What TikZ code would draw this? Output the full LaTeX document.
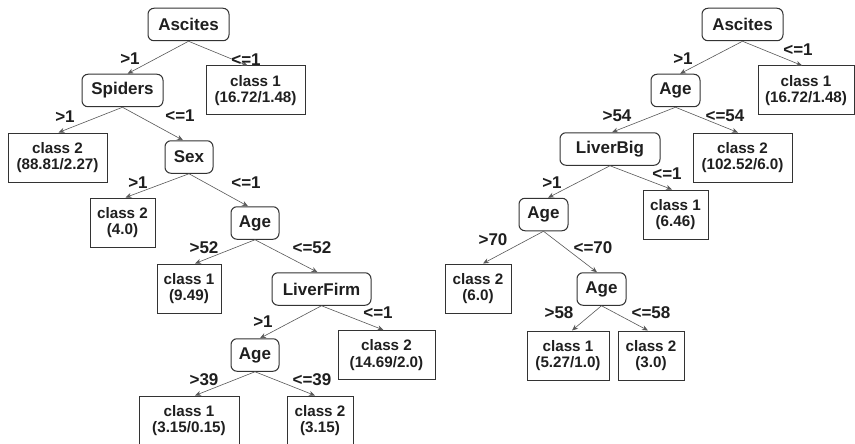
\documentclass[tikz,border=0pt]{standalone}
\usepackage{fontspec}
\setmainfont{Liberation Sans}
\usetikzlibrary{arrows.meta}
\begin{document}
\begin{tikzpicture}[x=1pt,y=-1pt,
 inode/.style={draw=black!80, line width=1pt, rounded corners=6pt, font=\fontsize{17}{18}\selectfont\bfseries, text=black!88, inner sep=0pt, minimum height=32.5pt},
 leaf/.style={draw=black!80, line width=1pt, font=\fontsize{15.2}{16.3}\selectfont\bfseries, align=center, text=black!88, inner sep=0pt, minimum height=49pt},
 elab/.style={font=\fontsize{17}{18}\selectfont\bfseries, text=black!88, inner sep=0pt},
 conn/.style={draw=black!65, line width=0.6pt, -{Stealth[length=6pt,width=5pt]}}]
\useasboundingbox (0,0) rectangle (855,444);
\fill[white] (0,0) rectangle (855,444);
% ---------- left tree ----------
\node[inode, minimum width=81pt] (a1) at (188.5,24.5) {Ascites};
\node[leaf, minimum width=99pt] (l1) at (255.5,90.5) {class 1\\(16.72/1.48)};
\node[inode, minimum width=81pt] (s) at (122.5,90.5) {Spiders};
\node[leaf, minimum width=99pt] (l2) at (57.5,157.5) {class 2\\(88.81/2.27)};
\node[inode, minimum width=48pt] (sex) at (189,157) {Sex};
\node[leaf, minimum width=65pt] (l3) at (122.5,222.5) {class 2\\(4.0)};
\node[inode, minimum width=48pt] (age1) at (255,223) {Age};
\node[leaf, minimum width=64pt] (l4) at (189,288.5) {class 1\\(9.49)};
\node[inode, minimum width=99pt] (lf) at (321.5,289) {LiverFirm};
\node[inode, minimum width=48pt] (age2) at (255,355) {Age};
\node[leaf, minimum width=97pt] (l5) at (386.5,355) {class 2\\(14.69/2.0)};
\node[leaf, minimum width=100pt] (l6) at (189,420.5) {class 1\\(3.15/0.15)};
\node[leaf, minimum width=66pt] (l7) at (320,420.5) {class 2\\(3.15)};
\draw[conn] (a1.south) -- ([xshift=5pt]s.north);
\draw[conn] (a1.south) -- ([xshift=-8pt]l1.north);
\draw[conn] (s.south) -- ([xshift=1pt]l2.north);
\draw[conn] (s.south) -- ([xshift=-6pt]sex.north);
\draw[conn] (sex.south) -- ([xshift=3pt]l3.north);
\draw[conn] (sex.south) -- ([xshift=-7pt]age1.north);
\draw[conn] (age1.south) -- ([xshift=6pt]l4.north);
\draw[conn] (age1.south) -- ([xshift=-4pt]lf.north);
\draw[conn] (lf.south) -- ([xshift=5pt]age2.north);
\draw[conn] (lf.south) -- ([xshift=-3pt]l5.north);
\draw[conn] (age2.south) -- ([xshift=6pt]l6.north);
\draw[conn] (age2.south) -- ([xshift=-5pt]l7.north);
\node[elab] (e1) at (130,59) {>1};
\node[elab] (e2) at (246,60) {<=1};
\node[elab] (e3) at (65,117) {>1};
\node[elab] (e4) at (180,116) {<=1};
\node[elab] (e5) at (138,183) {>1};
\node[elab] (e6) at (246,183) {<=1};
\node[elab] (e7) at (204,248) {>52};
\node[elab] (e8) at (312,248) {<=52};
\node[elab] (e9) at (263,322) {>1};
\node[elab] (e10) at (378,313) {<=1};
\node[elab] (e11) at (204,380) {>39};
\node[elab] (e12) at (312,380) {<=39};
% ---------- right tree ----------
\node[inode, minimum width=81pt] (b1) at (742.5,24.5) {Ascites};
\node[leaf, minimum width=96pt] (r1) at (806,90.5) {class 1\\(16.72/1.48)};
\node[inode, minimum width=49pt] (ba) at (675.5,90.5) {Age};
\node[inode, minimum width=100pt] (lb) at (610,149) {LiverBig};
\node[leaf, minimum width=99pt] (r2) at (742.5,157.5) {class 2\\(102.52/6.0)};
\node[leaf, minimum width=65pt] (r3) at (675.5,214.5) {class 1\\(6.46)};
\node[inode, minimum width=49pt] (ba2) at (543.5,214.5) {Age};
\node[leaf, minimum width=66pt] (r4) at (478,288.5) {class 2\\(6.0)};
\node[inode, minimum width=49pt] (ba3) at (601.5,289) {Age};
\node[leaf, minimum width=82pt] (r5) at (568,355.5) {class 1\\(5.27/1.0)};
\node[leaf, minimum width=66pt] (r6) at (651,355.5) {class 2\\(3.0)};
\draw[conn] (b1.south) -- ([xshift=4.5pt]ba.north);
\draw[conn] (b1.south) -- ([xshift=-4pt]r1.north);
\draw[conn] (ba.south) -- ([xshift=2pt]lb.north);
\draw[conn] (ba.south) -- ([xshift=-4.5pt]r2.north);
\draw[conn] (lb.south) -- ([xshift=4.5pt]ba2.north);
\draw[conn] (lb.south) -- ([xshift=-3.5pt]r3.north);
\draw[conn] (ba2.south) -- ([xshift=5pt]r4.north);
\draw[conn] (ba2.south) -- ([xshift=-4.5pt]ba3.north);
\draw[conn] (ba3.south) -- ([xshift=4pt]r5.north);
\draw[conn] (ba3.south) -- ([xshift=-3pt]r6.north);
\node[elab] (f1) at (683,59) {>1};
\node[elab] (f2) at (798,50) {<=1};
\node[elab] (f3) at (617,116) {>54};
\node[elab] (f4) at (725,116) {<=54};
\node[elab] (f5) at (552,183) {>1};
\node[elab] (f6) at (667,174) {<=1};
\node[elab] (f7) at (493,240) {>70};
\node[elab] (f8) at (593,248) {<=70};
\node[elab] (f9) at (559,313) {>58};
\node[elab] (f10) at (651,313) {<=58};
\end{tikzpicture}
\end{document}
